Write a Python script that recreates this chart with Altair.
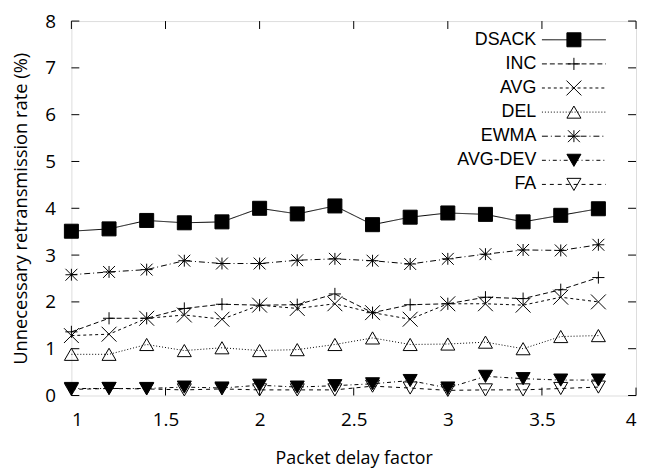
import altair as alt
import pandas as pd

# ---- data ----
x_vals = [1.0, 1.2, 1.4, 1.6, 1.8, 2.0, 2.2, 2.4, 2.6, 2.8, 3.0, 3.2, 3.4, 3.6, 3.8]
series_names = ["DSACK", "INC", "AVG", "DEL", "EWMA", "AVG-DEV", "FA"]
dsack = [3.51, 3.56, 3.74, 3.69, 3.71, 4.00, 3.88, 4.05, 3.65, 3.81, 3.90, 3.87, 3.71, 3.85, 3.99]
inc = [1.36, 1.65, 1.65, 1.86, 1.95, 1.93, 1.94, 2.17, 1.77, 1.94, 1.96, 2.10, 2.07, 2.26, 2.52]
avg = [1.28, 1.31, 1.65, 1.72, 1.63, 1.93, 1.86, 1.96, 1.77, 1.63, 1.96, 1.96, 1.93, 2.10, 2.00]
dele = [0.88, 0.88, 1.09, 0.96, 1.02, 0.96, 0.98, 1.09, 1.23, 1.09, 1.10, 1.14, 1.00, 1.26, 1.28]
ewma = [2.58, 2.64, 2.69, 2.88, 2.82, 2.82, 2.89, 2.92, 2.88, 2.81, 2.92, 3.02, 3.11, 3.10, 3.22]
avgdev = [0.15, 0.15, 0.15, 0.18, 0.16, 0.22, 0.18, 0.21, 0.25, 0.32, 0.16, 0.41, 0.36, 0.33, 0.33]
fa = [0.13, 0.15, 0.14, 0.12, 0.14, 0.12, 0.12, 0.12, 0.20, 0.16, 0.11, 0.12, 0.12, 0.15, 0.18]
series_values = [dsack, inc, avg, dele, ewma, avgdev, fa]

x_ticks = [1, 1.5, 2, 2.5, 3, 3.5, 4]
y_ticks = [0, 1, 2, 3, 4, 5, 6, 7, 8]

# ---- styles ----
PLUS = "M-1,0L1,0M0,-1L0,1"
CROSS = "M-1,-1L1,1M-1,1L1,-1"
STAR = "M-1,0L1,0M0,-1L0,1M-1,-1L1,1M-1,1L1,-1"
styles = {
    "DSACK": dict(dash=[1, 0], shape="square", filled=True, size=200),
    "INC": dict(dash=[5, 3], shape=PLUS, filled=False, size=150),
    "AVG": dict(dash=[3, 3], shape=CROSS, filled=False, size=225),
    "DEL": dict(dash=[1, 2], shape="triangle-up", filled=False, size=200),
    "EWMA": dict(dash=[6, 3, 1, 3], shape=STAR, filled=False, size=144),
    "AVG-DEV": dict(dash=[4, 3, 1, 3], shape="triangle-down", filled=True, size=200),
    "FA": dict(dash=[4, 4], shape="triangle-down", filled=False, size=200),
}

W, H = 570, 378
FONT = "Open Sans"

xs = alt.Scale(domain=[1, 4], nice=False, zero=False)
ys = alt.Scale(domain=[0, 8], nice=False)

layers = []
for name, vals in zip(series_names, series_values):
    df = pd.DataFrame({"x": x_vals, "y": vals, "series": name})
    st = styles[name]
    base = alt.Chart(df)
    line = base.mark_line(color="black", strokeWidth=1, strokeDash=st["dash"], clip=False).encode(
        x=alt.X("x:Q", scale=xs), y=alt.Y("y:Q", scale=ys)
    )
    pt = base.mark_point(
        shape=st["shape"], size=st["size"], filled=st["filled"],
        fill="black" if st["filled"] else None,
        stroke="black", strokeWidth=1, opacity=1, clip=False,
    ).encode(x=alt.X("x:Q", scale=xs), y=alt.Y("y:Q", scale=ys))
    layers += [line, pt]

# ---- legend (data space, top right) ----
leg_y0, leg_dy = 7.6, 0.515
leg_text_x, leg_l0, leg_l1, leg_m = 3.47, 3.50, 3.84, 3.67
for i, name in enumerate(series_names):
    st = styles[name]
    ly = leg_y0 - leg_dy * i
    ldf = pd.DataFrame({"t": [name], "tx": [leg_text_x], "x0": [leg_l0], "x1": [leg_l1], "xm": [leg_m], "y": [ly]})
    lb = alt.Chart(ldf)
    layers.append(lb.mark_text(align="right", baseline="middle", font="Liberation Sans", fontSize=18, color="black").encode(
        x=alt.X("tx:Q", scale=xs), y=alt.Y("y:Q", scale=ys), text="t:N"))
    layers.append(lb.mark_rule(color="black", strokeWidth=1, strokeDash=st["dash"]).encode(
        x=alt.X("x0:Q", scale=xs), x2="x1:Q", y=alt.Y("y:Q", scale=ys)))
    layers.append(lb.mark_point(shape=st["shape"], size=st["size"], filled=st["filled"],
                                fill="black" if st["filled"] else None,
                                stroke="black", strokeWidth=1, opacity=1).encode(
        x=alt.X("xm:Q", scale=xs), y=alt.Y("y:Q", scale=ys)))

# ---- inward ticks ----
xt = alt.Chart(pd.DataFrame({"v": x_ticks}))
yt = alt.Chart(pd.DataFrame({"v": y_ticks}))
layers.append(xt.mark_rule(color="black", strokeWidth=1).encode(
    x=alt.X("v:Q", scale=xs), y=alt.value(H), y2=alt.value(H - 8)))
layers.append(xt.mark_rule(color="black", strokeWidth=1).encode(
    x=alt.X("v:Q", scale=xs), y=alt.value(0), y2=alt.value(8)))
layers.append(yt.mark_rule(color="black", strokeWidth=1).encode(
    y=alt.Y("v:Q", scale=ys), x=alt.value(0), x2=alt.value(8)))
layers.append(yt.mark_rule(color="black", strokeWidth=1).encode(
    y=alt.Y("v:Q", scale=ys), x=alt.value(W), x2=alt.value(W - 8)))

# axes carrier
axis_df = pd.DataFrame({"x": [1, 4], "y": [0, 8]})
axes = alt.Chart(axis_df).mark_point(opacity=0).encode(
    x=alt.X("x:Q", scale=xs, title="Packet delay factor",
            axis=alt.Axis(values=x_ticks, format="~g", grid=False, ticks=False, domain=False,
                          labelFont=FONT, labelFontSize=19, labelColor="black", labelPadding=15,
                          titleFont=FONT, titleFontSize=18, titleFontWeight="normal", titleColor="black",
                          titlePadding=21)),
    y=alt.Y("y:Q", scale=ys, title="Unnecessary retransmission rate (%)",
            axis=alt.Axis(values=y_ticks, format="d", grid=False, ticks=False, domain=False,
                          labelFont=FONT, labelFontSize=19, labelColor="black", labelPadding=16,
                          titleFont=FONT, titleFontSize=18.5, titleFontWeight="normal", titleColor="black",
                          titlePadding=14)),
)

chart = alt.layer(axes, *layers).properties(
    width=W, height=H,
    autosize=alt.AutoSizeParams(type="none"),
    padding={"left": 64, "top": 11, "right": 3, "bottom": 72},
).configure_view(stroke="black", strokeWidth=1.5).configure(background="white")

chart.save("out.html", embed_options={"renderer": "svg", "actions": False})
